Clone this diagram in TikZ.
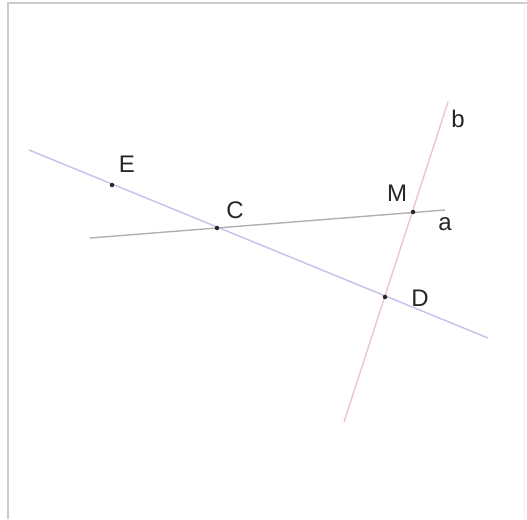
\documentclass[tikz,border=0pt]{standalone}
\usepackage{fontspec}
\setmainfont{Liberation Sans}
\definecolor{lineblue}{HTML}{C2C2EA}
\definecolor{linegray}{HTML}{B0B0B0}
\definecolor{linepink}{HTML}{ECC6CC}
\definecolor{framegray}{HTML}{CCCCCC}
\tikzset{
  pt/.style={circle,fill=black!85,inner sep=0pt,minimum size=4.5pt},
  lbl/.style={font=\fontsize{24}{24}\selectfont,inner sep=0pt,text=black!85},
  geoline/.style={line width=1.4pt},
}
\begin{document}
\begin{tikzpicture}[x=1pt,y=-1pt]
\useasboundingbox (0,0) rectangle (527,519);
\fill[white] (0,0) rectangle (527,519);
% frame
\coordinate (f1) at (8,519);
\coordinate (f2) at (8,3);
\coordinate (f3) at (527,3);
\coordinate (f4) at (524,3);
\coordinate (f5) at (524,519);
\draw[framegray,line width=1.2pt] (f1) -- (f2) -- (f3);
\draw[framegray!30,line width=0.8pt] (f4) -- (f5);
% line endpoints
\coordinate (b1) at (29,150);
\coordinate (b2) at (488,338);
\coordinate (a1) at (90,238);
\coordinate (a2) at (445,210);
\coordinate (p1) at (448,102);
\coordinate (p2) at (344,422);
\draw[geoline,lineblue] (b1) -- (b2);
\draw[geoline,linegray] (a1) -- (a2);
\draw[geoline,linepink] (p1) -- (p2);
% points
\node[pt] (E) at (112,185) {};
\node[pt] (C) at (217,228) {};
\node[pt] (M) at (413,212) {};
\node[pt] (D) at (385,297) {};
% labels
\node[lbl] (lE) at (127,164) {E};
\node[lbl] (lC) at (235,210) {C};
\node[lbl] (lM) at (397,193) {M};
\node[lbl] (la) at (445,224) {a};
\node[lbl] (lb) at (458,119) {b};
\node[lbl] (lD) at (420,298) {D};
\end{tikzpicture}
\end{document}
